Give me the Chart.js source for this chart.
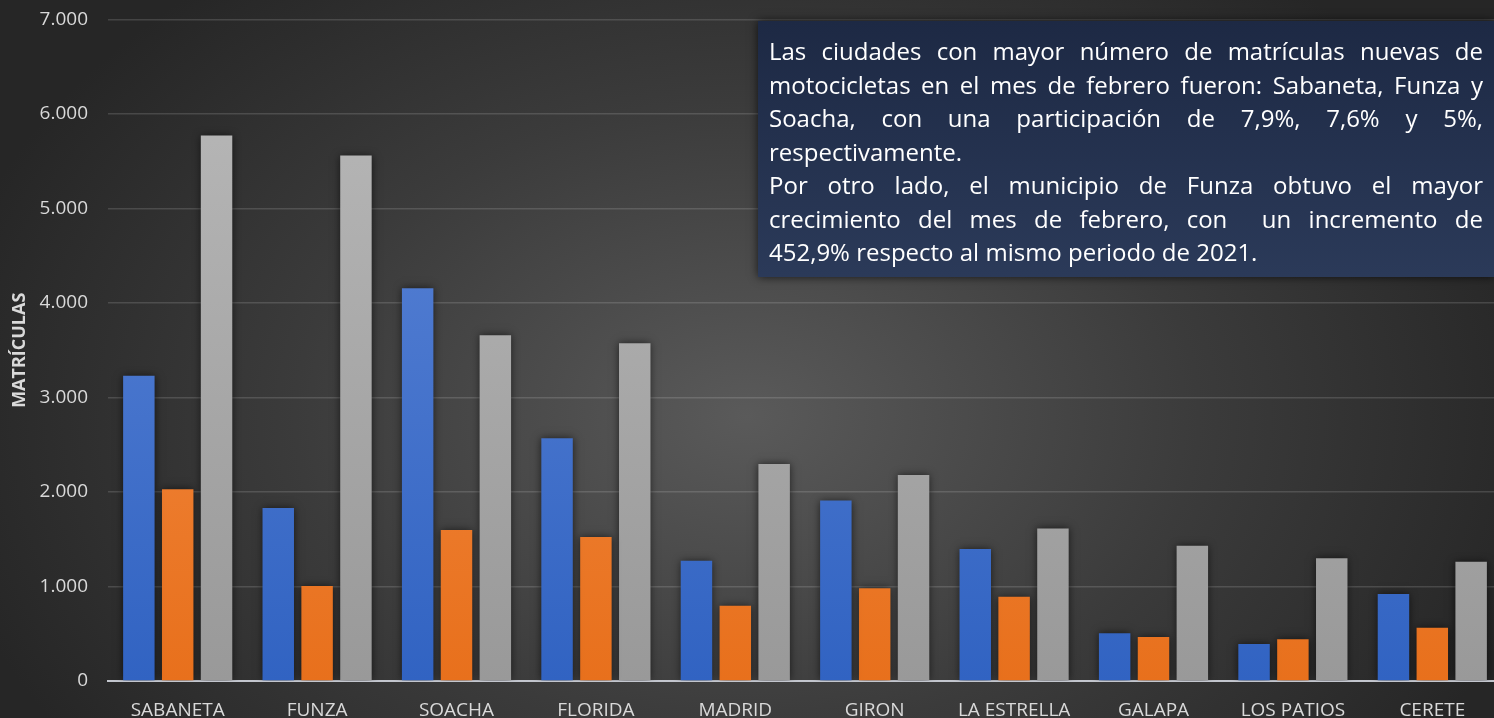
<!DOCTYPE html>
<html lang="es">
<head>
<meta charset="utf-8">
<title>Matrículas de motocicletas - febrero</title>
<script src="https://cdn.jsdelivr.net/npm/chart.js@4/dist/chart.umd.min.js"></script>
<style>
  html, body { margin: 0; padding: 0; width: 1494px; height: 718px; overflow: hidden; }
  body {
    background: radial-gradient(ellipse 55% 80% at 50% 58%, #5a5a5a 0%, #3b3b3b 55%, #262626 100%);
    font-family: 'Open Sans', sans-serif;
  }
  #wrap { position: absolute; left: 0; top: 0; width: 1502px; height: 718px; }
  #note {
    position: absolute; left: 758px; top: 21px; width: 714px; height: 235px;
    padding: 13px 11px 8px 11px;
    background: linear-gradient(to bottom, #1d2944, #2b3a59);
    box-shadow: 0 0 9px rgba(0, 0, 0, 0.7);
    color: #ffffff; font-size: 24px; line-height: 33.5px;
  }
  #note .j { text-align: justify; text-align-last: justify; }
</style>
</head>
<body>
<div id="wrap"><canvas id="chart"></canvas></div>
<div id="note">
  <div class="j">Las ciudades con mayor número de matrículas nuevas de</div>
  <div class="j">motocicletas en el mes de febrero fueron: Sabaneta, Funza y</div>
  <div class="j">Soacha, con una participación de 7,9%, 7,6% y 5%,</div>
  <div>respectivamente.</div>
  <div class="j">Por otro lado, el municipio de Funza obtuvo el mayor</div>
  <div class="j">crecimiento del mes de febrero, con&nbsp; un incremento de</div>
  <div>452,9% respecto al mismo periodo de 2021.</div>
</div>
<script>
const ciudades = ['SABANETA', 'FUNZA', 'SOACHA', 'FLORIDA', 'MADRID', 'GIRON', 'LA ESTRELLA', 'GALAPA', 'LOS PATIOS', 'CERETE']
const feb2020 = [3230, 1830, 4155, 2570, 1272, 1910, 1396, 505, 392, 920]
const feb2021 = [2030, 1006, 1597, 1523, 796, 981, 892, 466, 441, 564]
const feb2022 = [5772, 5560, 3660, 3575, 2296, 2180, 1615, 1431, 1298, 1262]
const yTicks = [0, 1000, 2000, 3000, 4000, 5000, 6000, 7000]

const axisText = '#d9d9d9'

function grad(top, bottom) {
  return function (ctx) {
    const area = ctx.chart.chartArea
    if (!area) return bottom
    const g = ctx.chart.ctx.createLinearGradient(0, area.top, 0, area.bottom)
    g.addColorStop(0, top)
    g.addColorStop(1, bottom)
    return g
  }
}

const miles = v => String(v).replace(/\B(?=(\d{3})+(?!\d))/g, '.')

// sombra suave detras de las barras
const barShadow = {
  id: 'barShadow',
  beforeDatasetsDraw(chart) {
    const c = chart.ctx
    c.save()
    c.shadowColor = 'rgba(0, 0, 0, 0.6)'
    c.shadowBlur = 8
  },
  afterDatasetsDraw(chart) {
    chart.ctx.restore()
  }
}

const chart = new Chart(document.getElementById('chart'), {
  type: 'bar',
  data: {
    labels: ciudades,
    datasets: [
      { label: 'Febrero 2020', data: feb2020, backgroundColor: grad('#6189d9', '#3163c2') },
      { label: 'Febrero 2021', data: feb2021, backgroundColor: grad('#f69553', '#e8701c') },
      { label: 'Febrero 2022', data: feb2022, backgroundColor: grad('#bababa', '#999999') }
    ]
  },
  options: {
    responsive: true,
    maintainAspectRatio: false,
    animation: false,
    categoryPercentage: 0.836,
    barPercentage: 0.81,
    layout: { padding: { top: 19.5, right: 0, bottom: 0, left: 0 } },
    plugins: {
      legend: { display: false },
      tooltip: { enabled: false }
    },
    scales: {
      x: {
        grid: { display: false, drawTicks: false },
        border: { display: true, color: '#c3c6ce', width: 2 },
        ticks: { color: axisText, font: { family: 'Open Sans', size: 19 }, padding: 18, maxRotation: 0 },
        afterFit(s) { s.height = 37 }
      },
      y: {
        min: 0,
        max: 7000,
        afterBuildTicks(s) { s.ticks = yTicks.map(v => ({ value: v })) },
        grid: { color: 'rgba(255, 255, 255, 0.14)', lineWidth: 1.5, drawTicks: false },
        border: { display: false },
        ticks: { color: axisText, font: { family: 'Open Sans', size: 19 }, padding: 20, callback: v => miles(v) },
        title: {
          display: true,
          text: 'MATRÍCULAS',
          color: axisText,
          font: { family: 'Open Sans', size: 18, weight: 'bold' },
          padding: { top: 9, bottom: 0 }
        },
        afterFit(s) {
          s.width = 108
          s.paddingTop = 0
          s.paddingBottom = 0
        }
      }
    }
  },
  plugins: [barShadow]
})
</script>
</body>
</html>
